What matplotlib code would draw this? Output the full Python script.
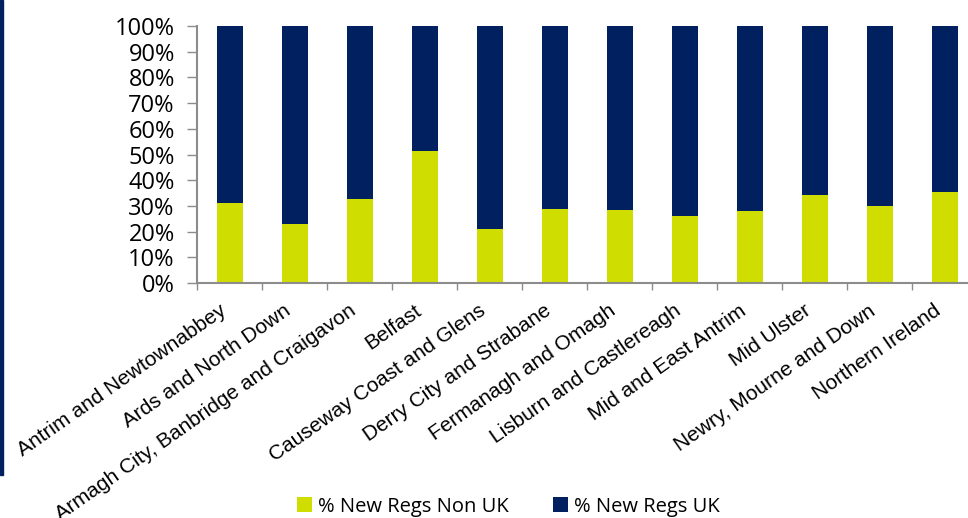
import matplotlib
matplotlib.use("Agg")
import matplotlib.pyplot as plt
import matplotlib.transforms as mtransforms
import numpy as np
from matplotlib.patches import Rectangle

# Data (share of new registrations, %)
areas = [
    "Antrim and Newtownabbey",
    "Ards and North Down",
    "Armagh City, Banbridge and Craigavon",
    "Belfast",
    "Causeway Coast and Glens",
    "Derry City and Strabane",
    "Fermanagh and Omagh",
    "Lisburn and Castlereagh",
    "Mid and East Antrim",
    "Mid Ulster",
    "Newry, Mourne and Down",
    "Northern Ireland",
]
non_uk = [31.1, 23.0, 32.7, 51.5, 20.9, 28.7, 28.3, 26.1, 28.1, 34.1, 30.1, 35.5]
uk = [100 - v for v in non_uk]

GREEN = "#CFDD00"
NAVY = "#002060"
AXIS_GREY = "#8C8C8C"

fig = plt.figure(figsize=(9.68, 5.18), dpi=100)
ax = fig.add_axes([197 / 968, 235 / 518, 780 / 968, 257 / 518])

x = np.arange(len(areas))
ax.bar(x, non_uk, width=0.4, color=GREEN, label="% New Regs Non UK")
ax.bar(x, uk, width=0.4, bottom=non_uk, color=NAVY, label="% New Regs UK")

ax.set_xlim(-0.5, len(areas) - 0.5)
ax.set_ylim(0, 100)

# y axis
ax.set_yticks(np.arange(0, 101, 10))
ax.set_yticklabels([f"{v}%" for v in range(0, 101, 10)],
                   fontfamily="Open Sans", fontsize=17)
ax.tick_params(axis="y", direction="out", length=7, width=1,
               color=AXIS_GREY, pad=9)

# x axis: ticks between categories, labels at centres
ax.set_xticks(x)
ax.set_xticklabels(areas, rotation=35, ha="right", va="top",
                   rotation_mode="anchor", fontfamily="Liberation Sans",
                   fontsize=15)
ax.tick_params(axis="x", which="major", length=0, pad=13)
shift = mtransforms.ScaledTranslation(-11 / 100, 0, fig.dpi_scale_trans)
for lbl in ax.get_xticklabels():
    lbl.set_transform(lbl.get_transform() + shift)
ax.set_xticks(np.arange(len(areas) + 1) - 0.5, minor=True)
ax.tick_params(axis="x", which="minor", direction="out", length=5,
               width=1, color=AXIS_GREY)

for side in ["top", "right"]:
    ax.spines[side].set_visible(False)
for side in ["left", "bottom"]:
    ax.spines[side].set_color(AXIS_GREY)
    ax.spines[side].set_linewidth(1.5)

# legend
fig.legend(loc="center", bbox_to_anchor=(0.525, 0.022), ncol=2, frameon=False,
           prop={"family": "Open Sans", "size": 14.5},
           handlelength=0.75, handleheight=0.75, handletextpad=0.3,
           columnspacing=2.2)

# navy rule at the left edge
fig.patches.append(Rectangle((0, (518 - 475) / 518), 3 / 968, 475 / 518,
                             transform=fig.transFigure, color=NAVY))

fig.savefig("out.png", dpi=100)
